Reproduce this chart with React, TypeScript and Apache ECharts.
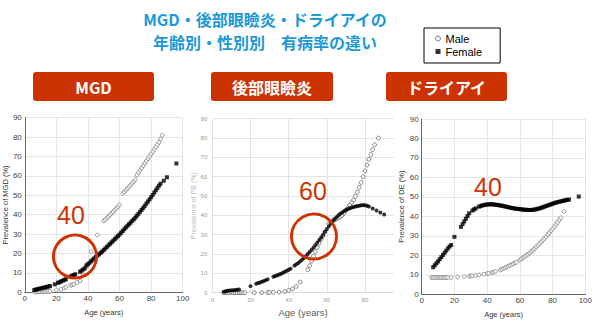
import React, { useEffect, useRef } from 'react';
import * as echarts from 'echarts';

// ---- Data (age in years, prevalence in %) ----
const mgdFemale: [number, number][] = [
  [6, 1.2], [7, 1.4], [8, 1.6], [9, 1.8], [10, 2.0], [11, 2.2], [12, 2.4], [13, 2.6], [14, 2.8], [15, 3.0], [16, 3.2],
  [19, 4.1],
  [21, 4.9], [22, 5.2], [23, 5.6], [24, 6.0], [25, 6.4], [26, 6.7],
  [29, 8.1], [30, 8.5], [31, 8.9], [32, 9.3],
  [35, 10.6], [36, 11.2], [37, 11.8], [38, 12.4],
  [39, 13.9], [40, 14.5], [41, 15.2], [42, 16.0], [43, 16.8], [44, 17.5], [45, 18.2], [46, 18.9], [47, 19.6],
  [48, 20.3], [49, 21.0], [50, 21.8], [51, 22.6], [52, 23.4], [53, 24.2], [54, 25.0], [55, 25.8], [56, 26.6],
  [57, 27.4], [58, 28.2], [59, 29.0], [60, 29.8], [61, 30.7], [62, 31.6], [63, 32.5], [64, 33.4], [65, 34.3],
  [66, 35.1], [67, 35.9], [68, 36.8], [69, 37.6], [70, 38.5], [71, 39.5], [72, 40.5], [73, 41.5], [74, 42.5],
  [75, 43.5], [76, 44.6], [77, 45.7], [78, 46.8], [79, 47.9], [80, 49.0], [81, 50.2], [82, 51.4], [83, 52.6],
  [84, 53.8], [85, 55.0], [86, 56.0], [88, 57.5], [90, 59.3],
  [96, 66.4],
];
const mgdMale: [number, number][] = [
  [6, 0.2], [7, 0.2], [8, 0.2], [9, 0.2], [10, 0.3], [11, 0.3], [12, 0.3], [13, 0.3], [14, 0.4], [15, 0.4], [16, 0.5],
  [20, 1.2], [23, 1.5], [25, 2.2], [26, 2.6], [29, 3.6], [30, 3.9], [31, 4.2], [33, 5.0], [35, 5.8],
  [37, 8.9], [39, 13.2], [42, 21.0], [46, 29.5],
  [50, 36.8], [51, 37.5], [52, 38.3], [53, 39.1], [54, 39.9], [55, 40.7], [56, 41.5], [57, 42.4], [58, 43.3], [59, 44.2], [60, 45.1],
  [62, 51.0], [63, 51.8], [64, 52.6], [65, 53.5], [66, 54.4], [67, 55.3], [68, 56.2], [69, 57.1], [70, 58.0],
  [71, 60.5], [72, 61.7], [73, 62.9], [74, 64.1], [75, 65.3], [76, 66.5], [77, 67.7], [78, 68.9], [79, 70.1],
  [80, 71.3], [81, 72.5], [82, 73.7], [83, 74.9], [84, 76.1], [85, 77.3], [86, 79.0],
  [87, 81.0],
];
const pbFemale: [number, number][] = [
  [6, 0.5], [7, 0.8], [8, 1.0], [9, 1.1], [10, 1.2], [11, 1.3], [12, 1.4], [13, 1.5], [14, 1.7],
  [20, 3.4],
  [23, 4.6], [24, 5.0], [25, 5.3], [26, 5.7], [27, 6.1], [28, 6.5], [29, 6.9],
  [32, 8.2], [33, 8.6], [34, 9.0], [35, 9.4], [36, 9.8], [37, 10.3], [38, 10.8], [39, 11.3], [40, 11.9], [41, 12.4],
  [43, 14.0], [44, 14.7], [45, 15.4], [46, 16.2], [47, 17.0], [48, 17.9], [49, 18.9], [50, 20.0], [51, 21.0],
  [52, 22.2], [53, 23.4], [54, 24.7], [55, 26.0], [56, 27.3], [57, 28.6], [58, 30.0], [59, 31.5], [60, 33.0],
  [61, 34.3], [62, 35.6], [63, 36.8], [64, 38.0], [65, 39.0], [66, 40.0], [67, 40.8], [68, 41.5], [69, 42.2],
  [70, 42.8], [71, 43.3], [72, 43.7], [73, 44.0], [74, 44.3], [75, 44.6], [76, 44.8], [77, 45.0], [78, 45.2],
  [79, 45.3], [80, 45.2], [81, 45.0], [82, 44.6], [84, 43.6], [86, 42.5], [88, 41.5], [90, 40.5],
];
const pbMale: [number, number][] = [
  [6, 0], [7, 0], [8, 0], [9, 0], [10, 0], [11, 0], [12, 0], [13, 0], [14, 0], [15, 0], [16, 0], [17, 0],
  [22, 0], [26, 0], [29, 0.1], [30, 0.2], [32, 0.2], [35, 0.3], [38, 0.6], [40, 1.2], [42, 2.0], [44, 3.3], [46, 5.5],
  [50, 11.9], [51, 14.0], [52, 16.3], [53, 18.9], [54, 21.2], [55, 23.4], [56, 25.6], [57, 27.6], [58, 29.4], [59, 31.5],
  [61, 35.5], [62, 36.6], [63, 37.3], [64, 37.8], [65, 38.2], [66, 38.6], [67, 39.2], [68, 40.0], [69, 41.2], [70, 42.6],
  [71, 44.0], [72, 45.3], [73, 46.6], [74, 48.0], [75, 49.8], [76, 52.0], [77, 54.5], [78, 57.0], [79, 60.0],
  [80, 63.0], [81, 66.0], [82, 69.0], [83, 71.5], [84, 74.0], [85, 76.5], [87, 80.0],
];
const deFemale: [number, number][] = [
  [7, 13.9], [8, 14.9], [9, 15.9], [10, 16.9], [11, 18.0], [12, 19.1], [13, 20.2], [14, 21.3], [15, 22.4], [16, 23.5], [17, 24.5], [18, 25.3],
  [20, 29.5],
  [24, 34.6], [25, 36.0], [26, 37.4], [27, 38.8], [28, 40.2], [29, 41.6],
  [31, 43.0], [32, 43.6], [33, 44.1],
  [35, 45.0], [36, 45.3], [37, 45.6], [38, 45.8], [39, 46.0], [40, 46.1], [41, 46.2], [42, 46.2], [43, 46.2], [44, 46.1],
  [45, 46.0], [46, 45.9], [47, 45.8], [48, 45.6], [49, 45.5], [50, 45.3], [51, 45.1], [52, 44.9], [53, 44.7], [54, 44.5],
  [55, 44.3], [56, 44.2], [57, 44.0], [58, 43.9], [59, 43.8], [60, 43.7], [61, 43.6], [62, 43.5], [63, 43.4], [64, 43.4],
  [65, 43.3], [66, 43.3], [67, 43.3], [68, 43.4], [69, 43.5], [70, 43.7], [71, 43.9], [72, 44.1], [73, 44.4], [74, 44.7],
  [75, 45.0], [76, 45.3], [77, 45.6], [78, 45.9], [79, 46.2], [80, 46.5], [81, 46.8], [82, 47.1], [83, 47.3], [84, 47.5],
  [85, 47.7], [86, 47.9], [87, 48.1], [88, 48.3], [89, 48.5], [90, 48.6],
  [96, 50.2],
];
const deMale: [number, number][] = [
  [6, 8.6], [7, 8.6], [8, 8.6], [9, 8.6], [10, 8.6], [11, 8.6], [12, 8.6], [13, 8.6], [14, 8.6], [15, 8.6], [16, 8.6],
  [18, 8.6], [22, 8.9], [26, 9.1], [29, 9.3], [30, 9.4], [31, 9.5], [33, 9.7], [35, 9.9], [38, 10.3], [40, 10.6],
  [41, 10.8], [43, 11.1], [44, 11.4], [45, 11.7],
  [48, 12.5], [49, 12.9], [50, 13.3], [51, 13.7], [52, 14.1], [53, 14.5], [54, 14.9], [55, 15.3], [56, 15.7], [57, 16.1], [58, 16.5],
  [60, 17.6], [61, 18.2], [62, 18.8], [63, 19.4], [64, 20.0], [65, 20.6], [66, 21.2], [67, 21.9], [68, 22.7], [69, 23.5],
  [70, 24.3], [71, 25.1], [72, 26.0], [73, 26.9], [74, 27.8], [75, 28.7], [76, 29.6], [77, 30.6], [78, 31.6], [79, 32.6],
  [80, 33.6], [81, 34.7], [82, 35.8], [83, 36.9], [84, 38.1], [85, 39.3],
  [87, 42.5],
];

const titleLines = ['MGD・後部眼瞼炎・ドライアイの', '年齢別・性別別　有病率の違い'];
const panelTitles = ['MGD', '後部眼瞼炎', 'ドライアイ'];
const yNames = ['Prevalence of MGD (%)', 'Prevalence of PB (%)', 'Prevalence of DE (%)'];
const xName = 'Age (years)';
const highlightAges = ['40', '60', '40'];

const RED = '#cc3300';
const SANS = '"Liberation Sans", Arial, sans-serif';
const JP = '"Noto Sans CJK JP", sans-serif';

export default function App() {
  const ref = useRef<HTMLDivElement>(null);
  useEffect(() => {
    if (!ref.current) return;
    const chart = echarts.init(ref.current, undefined, { renderer: 'svg' });

    const std = (gi: number) => ({
      x: {
        gridIndex: gi, type: 'value', min: 0, max: 100, interval: 20,
        axisLine: { show: true, lineStyle: { color: '#666', width: 1 } },
        axisTick: { show: false },
        axisLabel: { fontSize: 8, color: '#444', margin: 2, fontFamily: SANS },
        splitLine: { show: true, lineStyle: { color: '#e6e6e6', width: 1 } },
        name: xName, nameLocation: 'middle', nameGap: 16,
        nameTextStyle: { fontSize: 7.5, color: '#333', fontFamily: SANS },
      },
      y: {
        gridIndex: gi, type: 'value', min: 0, max: 90, interval: 10,
        axisLine: { show: true, lineStyle: { color: '#666', width: 1 } },
        axisTick: { show: false },
        axisLabel: { fontSize: 8, color: '#444', margin: 3, fontFamily: SANS },
        splitLine: { show: true, lineStyle: { color: '#e6e6e6', width: 1 } },
        name: yNames[gi], nameLocation: 'middle', nameGap: 15,
        nameTextStyle: { fontSize: 7.5, color: '#333', fontFamily: SANS },
      },
    });
    const a0 = std(0);
    const a2 = std(2);

    const x1 = {
      gridIndex: 1, type: 'value', min: 0, max: 95, interval: 20,
      axisLine: { show: true, lineStyle: { color: '#d9d9d9', width: 1 } },
      axisTick: { show: false },
      axisLabel: { fontSize: 6, color: '#999', margin: 4, showMaxLabel: false, fontFamily: SANS },
      splitLine: { show: true, showMaxLine: false, lineStyle: { color: '#e3e3e3', width: 1 } },
      name: xName, nameLocation: 'middle', nameGap: 14,
      nameTextStyle: { fontSize: 9.5, color: '#595959', fontFamily: SANS },
    };
    const y1 = {
      gridIndex: 1, type: 'value', min: 0, max: 90, interval: 10,
      axisLine: { show: false },
      axisTick: { show: false },
      axisLabel: { fontSize: 6, color: '#999', margin: 5, fontFamily: SANS },
      splitLine: { show: true, lineStyle: { color: '#e3e3e3', width: 1 } },
      name: yNames[1], nameLocation: 'middle', nameGap: 15,
      nameTextStyle: { fontSize: 7, color: '#bbb', fontFamily: SANS },
    };

    const male = (gi: number, data: [number, number][], stroke = '#777') => ({
      name: 'Male', type: 'scatter', xAxisIndex: gi, yAxisIndex: gi, data,
      symbol: 'circle', symbolSize: 3.8,
      itemStyle: { color: '#fff', borderColor: stroke, borderWidth: 0.9 },
      z: 2,
    });
    const female = (gi: number, data: [number, number][], sym = 'rect') => ({
      name: 'Female', type: 'scatter', xAxisIndex: gi, yAxisIndex: gi, data,
      symbol: sym, symbolSize: 4,
      itemStyle: { color: '#000' },
      z: 3,
    });

    const btns = [
      { x: 33, w: 121 },
      { x: 211, w: 122 },
      { x: 386, w: 121 },
    ];

    const graphic: any[] = [
      { type: 'text', x: 265, y: 19, style: { text: titleLines[0], fill: '#1d99d6', font: `bold 16px ${JP}`, textAlign: 'center', textVerticalAlign: 'middle' } },
      { type: 'text', x: 265, y: 42, style: { text: titleLines[1], fill: '#1d99d6', font: `bold 16px ${JP}`, textAlign: 'center', textVerticalAlign: 'middle' } },
    ];
    btns.forEach((b, i) => {
      graphic.push({ type: 'rect', shape: { x: b.x, y: 72, width: b.w, height: 29, r: 3 }, style: { fill: RED } });
      graphic.push({ type: 'text', x: b.x + b.w / 2, y: 87, style: { text: panelTitles[i], fill: '#fff', font: `bold 16px ${JP}`, textAlign: 'center', textVerticalAlign: 'middle' } });
    });
    graphic.push({ type: 'circle', shape: { cx: 75, cy: 256.5, r: 21.5 }, style: { fill: 'none', stroke: RED, lineWidth: 3 }, z: 100 });
    graphic.push({ type: 'circle', shape: { cx: 314, cy: 236.5, r: 22.5 }, style: { fill: 'none', stroke: RED, lineWidth: 3 }, z: 100 });
    graphic.push({ type: 'text', x: 71, y: 215, style: { text: highlightAges[0], fill: RED, font: `25px ${SANS}`, textAlign: 'center', textVerticalAlign: 'middle' }, z: 100 });
    graphic.push({ type: 'text', x: 313, y: 191, style: { text: highlightAges[1], fill: RED, font: `25px ${SANS}`, textAlign: 'center', textVerticalAlign: 'middle' }, z: 100 });
    graphic.push({ type: 'text', x: 488, y: 187, style: { text: highlightAges[2], fill: RED, font: `25px ${SANS}`, textAlign: 'center', textVerticalAlign: 'middle' }, z: 100 });

    chart.setOption({
      animation: false,
      backgroundColor: '#fff',
      legend: {
        orient: 'vertical', left: 424, top: 28,
        padding: [5, 18, 6, 11], itemGap: 2, itemWidth: 5, itemHeight: 5,
        borderColor: '#000', borderWidth: 1,
        textStyle: { fontSize: 11, color: '#000', fontFamily: SANS },
        selectedMode: false,
        data: [
          { name: 'Male', icon: 'circle', itemStyle: { color: '#fff', borderColor: '#555', borderWidth: 1 } },
          { name: 'Female', icon: 'rect', itemStyle: { color: '#000' } },
        ],
      },
      grid: [
        { left: 24, top: 117.7, width: 158.7, height: 174.6, containLabel: false },
        { left: 212.3, top: 118.7, width: 181.4, height: 174, containLabel: false },
        { left: 421.7, top: 119, width: 164.3, height: 175.3, containLabel: false },
      ],
      xAxis: [a0.x, x1, a2.x],
      yAxis: [a0.y, y1, a2.y],
      series: [
        male(0, mgdMale), female(0, mgdFemale),
        male(1, pbMale, '#555'), female(1, pbFemale, 'circle'),
        male(2, deMale), female(2, deFemale),
      ],
      graphic,
    });
    return () => chart.dispose();
  }, []);
  return <div ref={ref} style={{ position: 'absolute', left: 0, top: 0, width: 595, height: 330 }} />;
}
